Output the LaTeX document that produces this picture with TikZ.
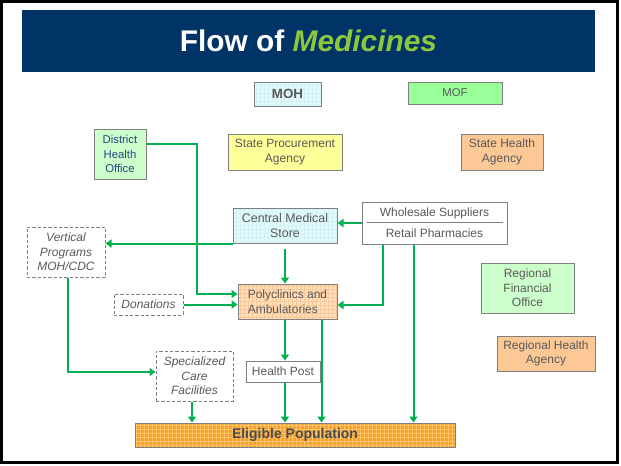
\documentclass[tikz,border=0pt]{standalone}
\usepackage{fontspec}
\setmainfont{Liberation Sans}
\usetikzlibrary{arrows.meta,calc,patterns}

\definecolor{bannerNavy}{RGB}{0,51,102}
\definecolor{medGreen}{RGB}{141,198,63}
\definecolor{flowGreen}{RGB}{0,176,80}
\definecolor{boxGray}{RGB}{128,128,128}
\definecolor{txtGray}{RGB}{89,89,89}
\definecolor{dhoBlue}{RGB}{31,73,125}
\definecolor{cyanFill}{RGB}{226,250,252}
\definecolor{cyanGrid}{RGB}{212,242,246}
\definecolor{mofGreen}{RGB}{153,255,153}
\definecolor{paleGreen}{RGB}{204,255,204}
\definecolor{paleYellow}{RGB}{255,255,153}
\definecolor{peach}{RGB}{252,200,150}
\definecolor{polyFill}{RGB}{253,224,194}
\definecolor{polyGrid}{RGB}{249,200,150}
\definecolor{popFill}{RGB}{250,162,40}
\definecolor{popGrid}{RGB}{255,196,105}

\tikzset{
  box/.style={draw=boxGray, line width=0.75pt, text=txtGray, align=center,
    inner sep=0pt, font=\fontsize{9}{11}\selectfont},
  dashbox/.style={box, dash pattern=on 2.5pt off 1.5pt,
    font=\fontsize{9}{11}\selectfont\itshape},
  gridfill/.style 2 args={preaction={fill=#1}, preaction={pattern=grid, pattern color=#2}},
  flow/.style={draw=flowGreen, line width=1.5pt, -{Triangle[length=4.5pt,width=6pt]}},
}

\begin{document}
\begin{tikzpicture}[x=0.75pt,y=0.75pt,yscale=-1,xscale=1]
\useasboundingbox (0,0) rectangle (621,465);

%Shape: Frame
\draw [line width=2.25pt] (1.5,1.2) rectangle (617,462);

% Title banner
\node (banner) [fill=bannerNavy, minimum width=429.75pt, minimum height=46.5pt, inner sep=0pt,
  text=white, font=\fontsize{22.4}{26}\selectfont\bfseries] at (308.5,41)
  {Flow of \textcolor{medGreen}{\itshape Medicines}};

% Text Node
\node (moh) [box, gridfill={cyanFill}{cyanGrid},
  minimum width=50.25pt, minimum height=18pt, font=\fontsize{10}{12}\selectfont\bfseries] at (287.5,94) {MOH};
% Text Node
\node (mof) [box, fill=mofGreen, minimum width=70.5pt, minimum height=16.5pt,
  font=\fontsize{8.5}{10}\selectfont] at (455,93) {MOF};
% Text Node
\node (dho) [box, fill=paleGreen, text=dhoBlue, minimum width=39pt, minimum height=37.5pt,
  font=\fontsize{8.5}{10.9}\selectfont] at (120,154) {District\\Health\\Office};
% Text Node
\node (spa) [box, fill=paleYellow, minimum width=85.5pt, minimum height=27pt] at (285,152) {State Procurement\\Agency};
% Text Node
\node (sha) [box, fill=peach, minimum width=61.5pt, minimum height=27pt] at (502,152) {State Health\\Agency};
% Text Node
\node (cms) [box, gridfill={cyanFill}{cyanGrid},
  minimum width=78pt, minimum height=26.25pt, font=\fontsize{9.3}{11}\selectfont] at (285,225.5) {Central Medical\\Store};
% Text Node
\node (ws) [box, fill=white, minimum width=108.75pt, minimum height=31.5pt,
  font=\fontsize{9}{15.75}\selectfont] at (434.5,223) {Wholesale Suppliers\\Retail Pharmacies};
\draw [boxGray, line width=0.75pt] ($(ws.west)+(5,-1)$) -- ($(ws.east)+(-5,-1)$);
% Text Node
\node (vp) [dashbox, fill=white, minimum width=58.5pt, minimum height=37.5pt] at (66,252) {Vertical\\Programs\\MOH/CDC};
% Text Node
\node (rfo) [box, fill=paleGreen, minimum width=69.75pt, minimum height=37.5pt] at (527.5,288) {Regional\\Financial\\Office};
% Text Node
\node (don) [dashbox, fill=white, minimum width=51.75pt, minimum height=15.75pt] at (148.5,304.5) {Donations};
% Text Node
\node (poly) [box, align=left, gridfill={polyFill}{polyGrid},
  minimum width=74.25pt, minimum height=26.25pt] at (287.5,301.5) {Polyclinics and\\Ambulatories};
% Text Node
\node (rha) [box, fill=peach, minimum width=73.5pt, minimum height=26.25pt] at (546,353.5) {Regional Health\\Agency};
% Text Node
\node (sc) [dashbox, fill=white, minimum width=57.75pt, minimum height=37.5pt] at (194.5,376) {Specialized\\Care\\Facilities};
% Text Node
\node (hp) [box, fill=white, minimum width=55.5pt, minimum height=15.75pt] at (283,371.5) {Health Post};
% Text Node
\node (ep) [box, gridfill={popFill}{popGrid},
  text=black!70, minimum width=240pt, minimum height=18pt,
  font=\fontsize{10.5}{12}\selectfont\bfseries] at (295,435) {Eligible Population};

% Connectors
\coordinate (cmsb) at ($(cms.south)+(0,5)$);
\coordinate (wsa) at ($(ws.south west)+(21,0)$);
\coordinate (wsb) at ($(ws.south west)+(52,0)$);
\coordinate (pa) at ($(poly.south)+(-2.5,0)$);
\coordinate (pb) at ($(poly.south east)+(-16,0)$);
\coordinate (hpb) at ($(hp.south)+(2,0)$);
\coordinate (vpb) at ($(vp.south)+(2,0)$);
\coordinate (scb) at ($(sc.south)+(-2.5,0)$);

\draw [flow] ($(dho.east)+(0,-10)$) -| ($(poly.west)+(-41,-7.5)$) -- ($(poly.west)+(0,-7.5)$);
\draw [flow] (don.east) -- (don.east -| poly.west);
\draw [flow] (cms.south west) -- (cms.south west -| vp.east);
\draw [flow] (cmsb) -- (cmsb |- poly.north);
\draw [flow] (ws.west) -- (ws.west -| cms.east);
\draw [flow] (wsa) |- ($(poly.east)+(0,3.5)$);
\draw [flow] (wsb) -- (wsb |- ep.north);
\draw [flow] (pa) -- (pa |- hp.north);
\draw [flow] (pb) -- (pb |- ep.north);
\draw [flow] (hpb) -- (hpb |- ep.north);
\draw [flow] (vpb) |- ($(sc.west)+(0,-4)$);
\draw [flow] (scb) -- (scb |- ep.north);

\end{tikzpicture}
\end{document}
